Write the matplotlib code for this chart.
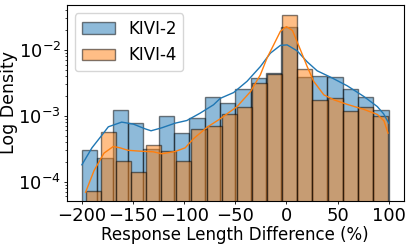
import matplotlib
matplotlib.use("Agg")
import matplotlib.pyplot as plt
from matplotlib.patches import Patch
from matplotlib.ticker import MultipleLocator

# histogram bin edges (Response Length Difference, %)
kivi2_edges = [-200, -185, -170, -155, -140, -125, -110, -95, -80, -65, -50,
               -35, -20, -5, 10, 25, 40, 55, 70, 85, 100]
kivi4_edges = [-196.4, -181.6, -166.8, -152.0, -137.3, -122.5, -107.7, -92.9,
               -78.1, -63.3, -48.5, -33.8, -19.0, -4.2, 10.6, 25.4, 40.2, 55.0,
               69.7, 84.5, 99.3]

# density per bin
kivi2_density = [3.05e-4, 2.33e-4, 1.23e-3, 7.74e-4, 3.16e-4, 1.0e-3, 5.47e-4,
                 9.23e-4, 1.95e-3, 1.59e-3, 2.54e-3, 3.73e-3, 4.44e-3, 2.25e-2,
                 3.94e-3, 4.03e-3, 3.94e-3, 2.54e-3, 1.92e-3, 1.23e-3]
kivi4_density = [7.13e-5, 5.66e-4, 2.10e-4, 1.43e-4, 3.55e-4, 2.88e-4, 2.10e-4,
                 6.28e-4, 6.93e-4, 1.06e-3, 1.38e-3, 3.13e-3, 4.33e-3, 3.39e-2,
                 5.11e-3, 1.75e-3, 1.85e-3, 1.19e-3, 1.37e-3, 9.82e-4]

# kde curves
kivi2_kde_x = [-200, -190.2, -179.4, -174.2, -161.1, -149.7, -138.2, -132.4,
               -121.9, -108.8, -97.4, -84.3, -71.3, -64.7, -51.7, -38.5, -25.5,
               -15.7, -5.9, 0.7, 10.5, 20.3, 30.1, 43.1, 59.5, 75.8, 88.9, 95.1, 100]
kivi2_kde_y = [1.81e-4, 3.27e-4, 5.34e-4, 6.81e-4, 8.03e-4, 7.49e-4, 6.35e-4,
               5.93e-4, 6.58e-4, 7.74e-4, 8.49e-4, 1.10e-3, 1.47e-3, 1.84e-3,
               2.25e-3, 3.34e-3, 5.58e-3, 8.91e-3, 1.17e-2, 1.19e-2, 9.66e-3,
               6.58e-3, 4.81e-3, 3.86e-3, 2.85e-3, 1.96e-3, 1.38e-3, 1.07e-3, 7.74e-4]
kivi4_kde_x = [-196.4, -188.2, -178.4, -169.3, -162.7, -154.9, -141.5, -130.4,
               -121.6, -108.8, -99.0, -90.9, -77.7, -64.7, -48.3, -35.3, -25.5,
               -18.9, -12.5, -5.9, 0.0, 5.9, 13.7, 20.3, 26.8, 36.6, 46.4, 59.5,
               75.8, 88.9, 95.4, 99.3]
kivi4_kde_y = [6.93e-5, 1.47e-4, 2.72e-4, 3.43e-4, 3.27e-4, 3.00e-4, 2.90e-4,
               2.85e-4, 2.66e-4, 2.88e-4, 3.27e-4, 4.49e-4, 6.70e-4, 9.02e-4,
               1.38e-3, 2.31e-3, 4.18e-3, 7.57e-3, 1.19e-2, 1.91e-2, 2.25e-2,
               1.97e-2, 1.0e-2, 5.58e-3, 3.31e-3, 2.08e-3, 1.75e-3, 1.49e-3,
               1.25e-3, 1.05e-3, 8.39e-4, 5.47e-4]

labels = ["KIVI-2", "KIVI-4"]
colors = ["#1f77b4", "#ff7f0e"]


def main():
    plt.rcParams["font.size"] = 12
    fig = plt.figure(figsize=(4.11, 2.47), dpi=100)
    ax = fig.add_axes([0.162, 0.186, 0.821, 0.794])

    for edges, dens, c in [(kivi2_edges, kivi2_density, colors[0]),
                           (kivi4_edges, kivi4_density, colors[1])]:
        widths = [edges[i + 1] - edges[i] for i in range(len(dens))]
        ax.bar(edges[:-1], dens, width=widths, align="edge", color=c,
               alpha=0.5, edgecolor="black", linewidth=1)

    ax.plot(kivi2_kde_x, kivi2_kde_y, color=colors[0], linewidth=1)
    ax.plot(kivi4_kde_x, kivi4_kde_y, color=colors[1], linewidth=1)

    ax.set_yscale("log")
    ax.set_ylim(5.1e-5, 0.048)
    ax.set_xlim(-215, 115)
    ax.xaxis.set_major_locator(MultipleLocator(50))
    ax.tick_params(which="major", length=2.5, pad=1.5, width=0.6, labelsize=13)
    ax.tick_params(which="minor", length=1.5, width=0.5)
    ax.set_xlabel("Response Length Difference (%)", fontsize=12, labelpad=1)
    ax.set_ylabel("Log Density", fontsize=12.5)
    ax.yaxis.set_label_coords(-0.143, 0.5)
    for s in ax.spines.values():
        s.set_linewidth(0.8)

    handles = [Patch(facecolor=c, alpha=0.5, edgecolor="black") for c in colors]
    ax.legend(handles, labels, loc="upper left", fontsize=12)

    fig.savefig("out.png", dpi=100)


if __name__ == "__main__":
    main()
